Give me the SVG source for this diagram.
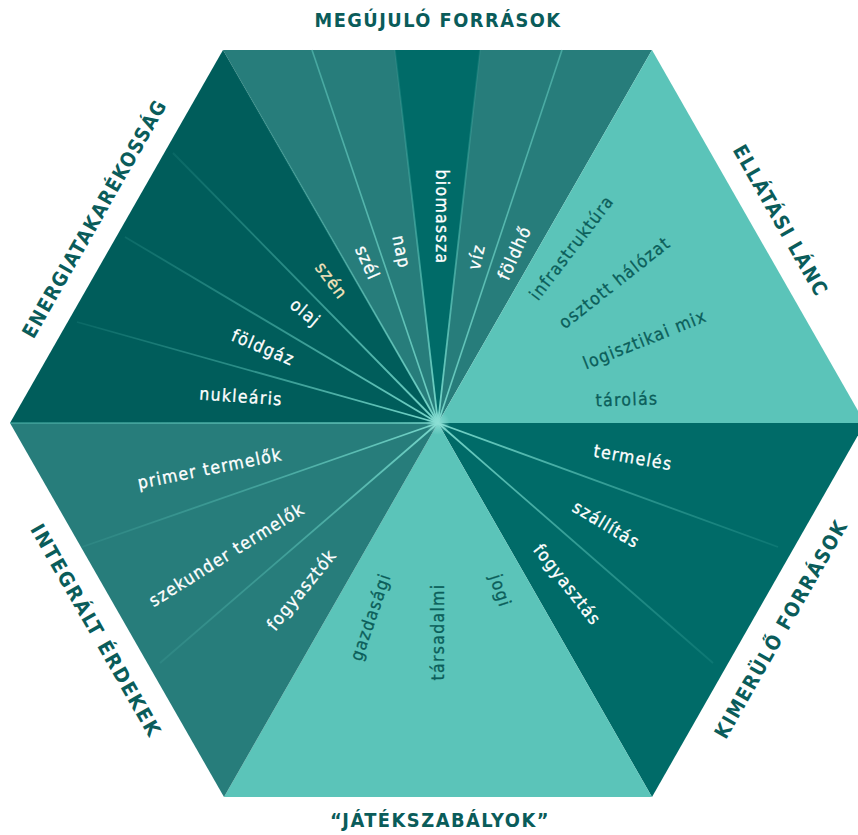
<svg xmlns="http://www.w3.org/2000/svg" width="858" height="835" viewBox="0 0 858 835">
<style>
.dk{fill:#005d5b}
.md{fill:#277d7b}
.bm{fill:#006b68}
.lt{fill:#5bc4b9}
.title{font-family:"DejaVu Sans Condensed","DejaVu Sans",sans-serif;font-stretch:condensed;font-weight:bold;font-size:20px;fill:#0a5c5a;letter-spacing:1.5px}
.lb{font-family:"DejaVu Sans Condensed","DejaVu Sans",sans-serif;font-stretch:condensed;font-size:17.5px;letter-spacing:1.3px;text-anchor:middle;stroke-width:0.3px}
.w{fill:#ffffff;stroke:#ffffff}
.d{fill:#0b5e5a;stroke:#0b5e5a}
.c{fill:#f4e3bb;stroke:#f4e3bb}
.sep{stroke:url(#fade);stroke-width:1.8;fill:none}
.sep2{stroke:url(#fade2);stroke-width:1.6;fill:none}
</style>
<defs>
<radialGradient id="fade" gradientUnits="userSpaceOnUse" cx="438" cy="423" r="430">
<stop offset="0" stop-color="#7ad8cc" stop-opacity="1"/>
<stop offset="0.12" stop-color="#6ccfc3" stop-opacity="0.9"/>
<stop offset="0.5" stop-color="#5bc4b9" stop-opacity="0.45"/>
<stop offset="1" stop-color="#5bc4b9" stop-opacity="0"/>
</radialGradient>
<radialGradient id="fade2" gradientUnits="userSpaceOnUse" cx="438" cy="423" r="430">
<stop offset="0" stop-color="#7ad8cc" stop-opacity="1"/>
<stop offset="0.12" stop-color="#6ccfc3" stop-opacity="0.9"/>
<stop offset="1" stop-color="#5bc4b9" stop-opacity="0.55"/>
</radialGradient>
<radialGradient id="glow" cx="0.5" cy="0.5" r="0.5">
<stop offset="0" stop-color="#8fe0d6" stop-opacity="0.9"/>
<stop offset="1" stop-color="#8fe0d6" stop-opacity="0"/>
</radialGradient>
</defs>

<g id="sector-megujulo">
<polygon class="md" points="438,423 223,50 652,50"/>
<polygon class="bm" points="438,423 395,50 480,50"/>
</g>
<g id="sector-energiatakarekossag">
<polygon class="dk" points="438,423 10,423 223,50"/>
</g>
<g id="sector-ellatasi">
<polygon class="lt" points="438,423 652,50 865,423"/>
</g>
<g id="sector-kimerulo">
<polygon class="bm" points="438,423 865,423 652,797"/>
</g>
<g id="sector-jatekszabalyok">
<polygon class="lt" points="438,423 652,797 224,797"/>
</g>
<g id="sector-integralt">
<polygon class="md" points="438,423 224,797 10,423"/>
</g>

<g id="connectors">
<line class="sep2" x1="438" y1="423" x2="312" y2="50"/>
<line class="sep2" x1="438" y1="423" x2="562" y2="50"/>
<line class="sep" x1="438" y1="423" x2="395" y2="50"/>
<line class="sep" x1="438" y1="423" x2="480" y2="50"/>
<line class="sep" x1="438" y1="423" x2="223" y2="50"/>
<line class="sep" x1="438" y1="423" x2="173" y2="153"/>
<line class="sep" x1="438" y1="423" x2="125" y2="237"/>
<line class="sep" x1="438" y1="423" x2="77" y2="322"/>
<line class="sep2" x1="438" y1="423" x2="10" y2="423"/>
<line class="sep" x1="438" y1="423" x2="82" y2="547"/>
<line class="sep" x1="438" y1="423" x2="160" y2="663"/>
<line class="sep" x1="438" y1="423" x2="778" y2="547"/>
<line class="sep" x1="438" y1="423" x2="713" y2="663"/>
<circle cx="438" cy="423" r="12" fill="url(#glow)"/>
</g>

<g id="titles">
<text class="title" x="438" y="27" text-anchor="middle" textLength="247" lengthAdjust="spacingAndGlyphs">MEGÚJULÓ FORRÁSOK</text>
<text class="title" x="440" y="827" text-anchor="middle" textLength="220" lengthAdjust="spacingAndGlyphs">“JÁTÉKSZABÁLYOK”</text>
<text class="title" text-anchor="middle" transform="translate(100.6,222) rotate(-60.3)" textLength="271" lengthAdjust="spacingAndGlyphs">ENERGIATAKARÉKOSSÁG</text>
<text class="title" text-anchor="middle" transform="translate(774.4,224) rotate(60.4)" textLength="171" lengthAdjust="spacingAndGlyphs">ELLÁTÁSI LÁNC</text>
<text class="title" text-anchor="middle" transform="translate(89.9,634) rotate(60.2)" textLength="242" lengthAdjust="spacingAndGlyphs">INTEGRÁLT ÉRDEKEK</text>
<text class="title" text-anchor="middle" transform="translate(787.1,632.5) rotate(-60.4)" textLength="248" lengthAdjust="spacingAndGlyphs">KIMERÜLŐ FORRÁSOK</text>
</g>

<g id="labels-energiatakarekossag">
<text class="lb c" transform="translate(331,281) rotate(53)" y="5.5">szén</text>
<text class="lb w" transform="translate(305,313) rotate(39.6)" y="5.5">olaj</text>
<text class="lb w" transform="translate(263,348) rotate(23)" y="5.5">földgáz</text>
<text class="lb w" transform="translate(241,397) rotate(4)" y="5.5">nukleáris</text>
</g>
<g id="labels-megujulo">
<text class="lb w" transform="translate(367,263) rotate(66)" y="5.5">szél</text>
<text class="lb w" transform="translate(401,252) rotate(78)" y="5.5">nap</text>
<text class="lb w" transform="translate(441,217) rotate(90)" y="5.5">biomassza</text>
<text class="lb w" transform="translate(477,257) rotate(-77)" y="5.5">víz</text>
<text class="lb w" transform="translate(515,253) rotate(-65.6)" y="5.5">földhő</text>
</g>
<g id="labels-ellatasi">
<text class="lb d" transform="translate(572,248) rotate(-52.6)" y="5.5">infrastruktúra</text>
<text class="lb d" transform="translate(615,283) rotate(-38.3)" y="5.5">osztott hálózat</text>
<text class="lb d" transform="translate(645,340) rotate(-21.8)" y="5.5">logisztikai mix</text>
<text class="lb d" transform="translate(627,400) rotate(-2)" y="5.5">tárolás</text>
</g>
<g id="labels-kimerulo">
<text class="lb w" transform="translate(633,458) rotate(10)" y="5.5">termelés</text>
<text class="lb w" transform="translate(606,525) rotate(31)" y="5.5">szállítás</text>
<text class="lb w" transform="translate(567,585) rotate(52)" y="5.5">fogyasztás</text>
</g>
<g id="labels-jatekszabalyok">
<text class="lb d" transform="translate(500,591) rotate(72)" y="5.5">jogi</text>
<text class="lb d" transform="translate(438,632) rotate(-90)" y="5.5">társadalmi</text>
<text class="lb d" transform="translate(371,617) rotate(-71)" y="5.5">gazdasági</text>
</g>
<g id="labels-integralt">
<text class="lb w" transform="translate(210,469) rotate(-11.4)" y="5.5">primer termelők</text>
<text class="lb w" transform="translate(227,555) rotate(-32)" y="5.5">szekunder termelők</text>
<text class="lb w" transform="translate(302,590) rotate(-50.8)" y="5.5">fogyasztók</text>
</g>
</svg>
